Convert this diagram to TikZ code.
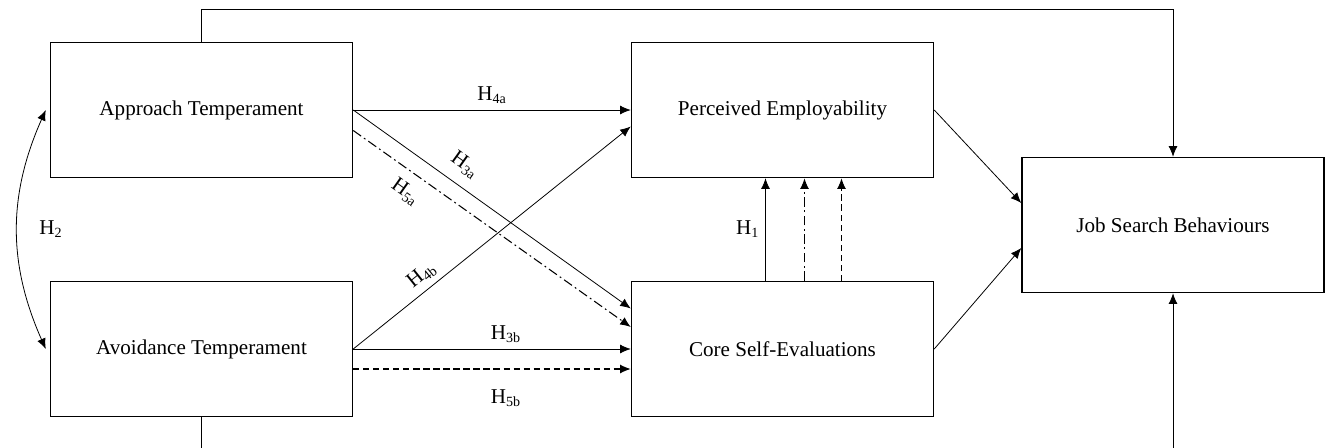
\documentclass[tikz,border=0pt]{standalone}
\usepackage{fontspec}
\setmainfont{Liberation Serif}
\usepackage{tikz}
\usetikzlibrary{arrows.meta,positioning}

\begin{document}
\begin{tikzpicture}[->,>={Latex[length=6pt,width=5pt]},auto,
                    node distance=2.05cm and 5.55cm,line width=0.45pt]
\tikzstyle{every node}=[font=\fontsize{12}{14}\selectfont]
\tikzstyle{box}=[draw,line width=0.85pt,minimum width=6.04cm,minimum height=2.7cm]
\tikzstyle{dashdot}=[line width=0.6pt,dash pattern=on 5.5pt off 2pt on 1pt off 2pt]
\tikzstyle{dashline}=[line width=0.6pt,dash pattern=on 3.5pt off 2.2pt]
\clip (0,0) rectangle (26.64,-8.94);
\node[box] (AT) at (4.03,-2.2) {Approach Temperament};
\node[box] (AvT) [below=of AT] {Avoidance Temperament};
\node[box] (PE) [right=of AT] {Perceived Employability};
\node[box] (CSE) [below=of PE] {Core Self-Evaluations};
\node[box] (JSB) at (23.46,-4.5) {Job Search Behaviours};

\draw (AT.east) -- node {H\textsubscript{4a}} (PE.west);
\draw (AT.east) -- node[sloped,pos=0.36,above=3pt] {H\textsubscript{3a}} ([yshift=0.81cm]CSE.west);
\draw[dashdot] ([yshift=-0.41cm]AT.east) -- node[sloped,pos=0.23,below=3pt] {H\textsubscript{5a}} ([yshift=0.44cm]CSE.west);
\draw (AvT.east) -- node[sloped,pos=0.28,above] {H\textsubscript{4b}} ([yshift=-0.33cm]PE.west);
\draw (AvT.east) -- node[pos=0.55] {H\textsubscript{3b}} (CSE.west);
\draw[dashline] ([yshift=-0.4cm]AvT.east) -- node[pos=0.55,below=8pt] {H\textsubscript{5b}} ([yshift=-0.4cm]CSE.west);
\draw ([xshift=-0.34cm]CSE.north) -- node[left] {H\textsubscript{1}} ([xshift=-0.34cm]PE.south);
\draw[dashdot] ([xshift=0.44cm]CSE.north) -- ([xshift=0.44cm]PE.south);
\draw[dashline] ([xshift=1.18cm]CSE.north) -- ([xshift=1.18cm]PE.south);
\draw (PE.east) -- ([yshift=0.44cm]JSB.west);
\draw (CSE.east) -- ([yshift=-0.46cm]JSB.west);
\draw (AT.north) -- ++(0,0.65) -| (JSB.north);
\draw (AvT.south) -- ++(0,-1) -| (JSB.south);
\draw[<->] ([xshift=-0.08cm]AT.west) to[bend right=24] node[right=9pt] {H\textsubscript{2}} ([xshift=-0.08cm]AvT.west);
\end{tikzpicture}
\end{document}
